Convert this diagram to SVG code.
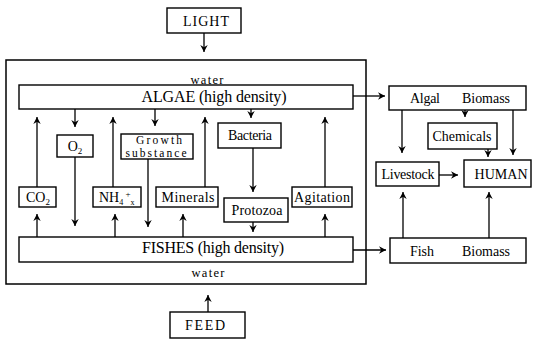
<svg xmlns="http://www.w3.org/2000/svg" width="534" height="339" viewBox="0 0 534 339">
<style>
.box{fill:#fff;stroke:#000;stroke-width:1.4}
.frame{fill:none;stroke:#000;stroke-width:1.5}
.ln{fill:none;stroke:#000;stroke-width:1.3;marker-end:url(#ah)}
text{font-family:"Liberation Serif","Times New Roman",serif;fill:#000;font-size:14px}
.c{text-anchor:middle}
.big{font-size:16px}
.sm{font-size:12.5px}
.xs{font-size:11.5px}
</style>
<defs>
<marker id="ah" markerUnits="userSpaceOnUse" markerWidth="9" markerHeight="9" refX="7" refY="4" orient="auto">
<path d="M0,0.3 L7,4 L0,7.7 L2.2,4 Z" fill="#000"/>
</marker>
</defs>
<rect width="534" height="339" fill="#fff"/>

<g id="pond">
<rect class="frame" x="6" y="60" width="360" height="224"/>
<text class="c sm" x="207" y="84" textLength="33" lengthAdjust="spacing">water</text>
<text class="c sm" x="208" y="277" textLength="33" lengthAdjust="spacing">water</text>
</g>

<g id="light">
<rect class="box" x="167" y="8" width="74" height="25"/>
<text class="c" x="206" y="26" textLength="46" lengthAdjust="spacing">LIGHT</text>
</g>
<g id="feed">
<rect class="box" x="170" y="312" width="75" height="26"/>
<text class="c" x="205" y="330" textLength="40" lengthAdjust="spacing">FEED</text>
</g>

<g id="algae">
<rect class="box" x="19" y="85" width="334" height="24"/>
<text class="c big" x="214" y="102" textLength="145" lengthAdjust="spacing">ALGAE (high density)</text>
</g>
<g id="fishes">
<rect class="box" x="19" y="237" width="334" height="25"/>
<text class="c big" x="213" y="253" textLength="142" lengthAdjust="spacing">FISHES (high density)</text>
</g>

<g id="o2">
<rect class="box" x="57" y="135" width="36" height="22"/>
<text class="c" x="75" y="151">O<tspan font-size="9" dy="3">2</tspan></text>
</g>
<g id="growth">
<rect class="box" x="121" y="134" width="72" height="25"/>
<text class="c xs" x="159" y="144" textLength="46" lengthAdjust="spacing">Growth</text>
<text class="c xs" x="156" y="157" textLength="61" lengthAdjust="spacing">substance</text>
</g>
<g id="bacteria">
<rect class="box" x="218" y="123" width="63" height="25"/>
<text class="c" x="250" y="140" textLength="44" lengthAdjust="spacing">Bacteria</text>
</g>
<g id="co2">
<rect class="box" x="19" y="187" width="37" height="20"/>
<text class="c" x="38" y="202">CO<tspan font-size="9" dy="3">2</tspan></text>
</g>
<g id="nh4">
<rect class="box" x="93" y="187" width="48" height="20"/>
<text x="99" y="202">NH<tspan font-size="8" dy="3">4</tspan><tspan font-size="9" dy="-8"> +</tspan><tspan font-size="8" dy="8">x</tspan></text>
</g>
<g id="minerals">
<rect class="box" x="156" y="187" width="62" height="20"/>
<text class="c" x="188" y="202" textLength="53" lengthAdjust="spacing">Minerals</text>
</g>
<g id="protozoa">
<rect class="box" x="224" y="198" width="64" height="24"/>
<text class="c" x="257" y="215" textLength="51" lengthAdjust="spacing">Protozoa</text>
</g>
<g id="agitation">
<rect class="box" x="292" y="187" width="60" height="20"/>
<text class="c" x="322" y="202" textLength="56" lengthAdjust="spacing">Agitation</text>
</g>

<g id="algal-biomass">
<rect class="box" x="389" y="86" width="137" height="24"/>
<text x="410" y="103" textLength="30" lengthAdjust="spacing">Algal</text>
<text x="462" y="103" textLength="48" lengthAdjust="spacing">Biomass</text>
</g>
<g id="chemicals">
<rect class="box" x="428" y="123" width="69" height="26"/>
<text class="c" x="462" y="141" textLength="59" lengthAdjust="spacing">Chemicals</text>
</g>
<g id="livestock">
<rect class="box" x="376" y="162" width="63" height="24"/>
<text class="c" x="408" y="179" textLength="53" lengthAdjust="spacing">Livestock</text>
</g>
<g id="human">
<rect class="box" x="464" y="160" width="67" height="27"/>
<text class="c" x="501" y="179" textLength="53" lengthAdjust="spacing">HUMAN</text>
</g>
<g id="fish-biomass">
<rect class="box" x="390" y="238" width="136" height="25"/>
<text x="410" y="256" textLength="24" lengthAdjust="spacing">Fish</text>
<text x="462" y="256" textLength="48" lengthAdjust="spacing">Biomass</text>
</g>

<g id="connectors">
<line class="ln" x1="204" y1="33" x2="204" y2="52"/>
<line class="ln" x1="208" y1="312" x2="208" y2="295"/>
<line class="ln" x1="353" y1="96" x2="385" y2="96"/>
<line class="ln" x1="353" y1="250" x2="386" y2="250"/>
<line class="ln" x1="402" y1="110" x2="402" y2="153"/>
<line class="ln" x1="465" y1="110" x2="465" y2="117"/>
<line class="ln" x1="488" y1="149" x2="488" y2="157"/>
<line class="ln" x1="513" y1="110" x2="513" y2="155"/>
<line class="ln" x1="439" y1="175" x2="458" y2="175"/>
<line class="ln" x1="403" y1="238" x2="403" y2="192"/>
<line class="ln" x1="489" y1="238" x2="489" y2="192"/>

<line class="ln" x1="37" y1="187" x2="37" y2="117"/>
<line class="ln" x1="75" y1="109" x2="75" y2="127"/>
<line class="ln" x1="75" y1="157" x2="75" y2="226"/>
<line class="ln" x1="113" y1="187" x2="113" y2="117"/>
<line class="ln" x1="155" y1="109" x2="155" y2="126"/>
<line class="ln" x1="148" y1="159" x2="148" y2="227"/>
<line class="ln" x1="205" y1="187" x2="205" y2="117"/>
<line class="ln" x1="251" y1="109" x2="251" y2="118"/>
<line class="ln" x1="253" y1="148" x2="253" y2="192"/>
<line class="ln" x1="253" y1="222" x2="253" y2="232"/>
<line class="ln" x1="325" y1="187" x2="325" y2="117"/>

<line class="ln" x1="37" y1="237" x2="37" y2="214"/>
<line class="ln" x1="115" y1="237" x2="115" y2="214"/>
<line class="ln" x1="183" y1="237" x2="183" y2="214"/>
<line class="ln" x1="325" y1="237" x2="325" y2="214"/>
</g>
</svg>
